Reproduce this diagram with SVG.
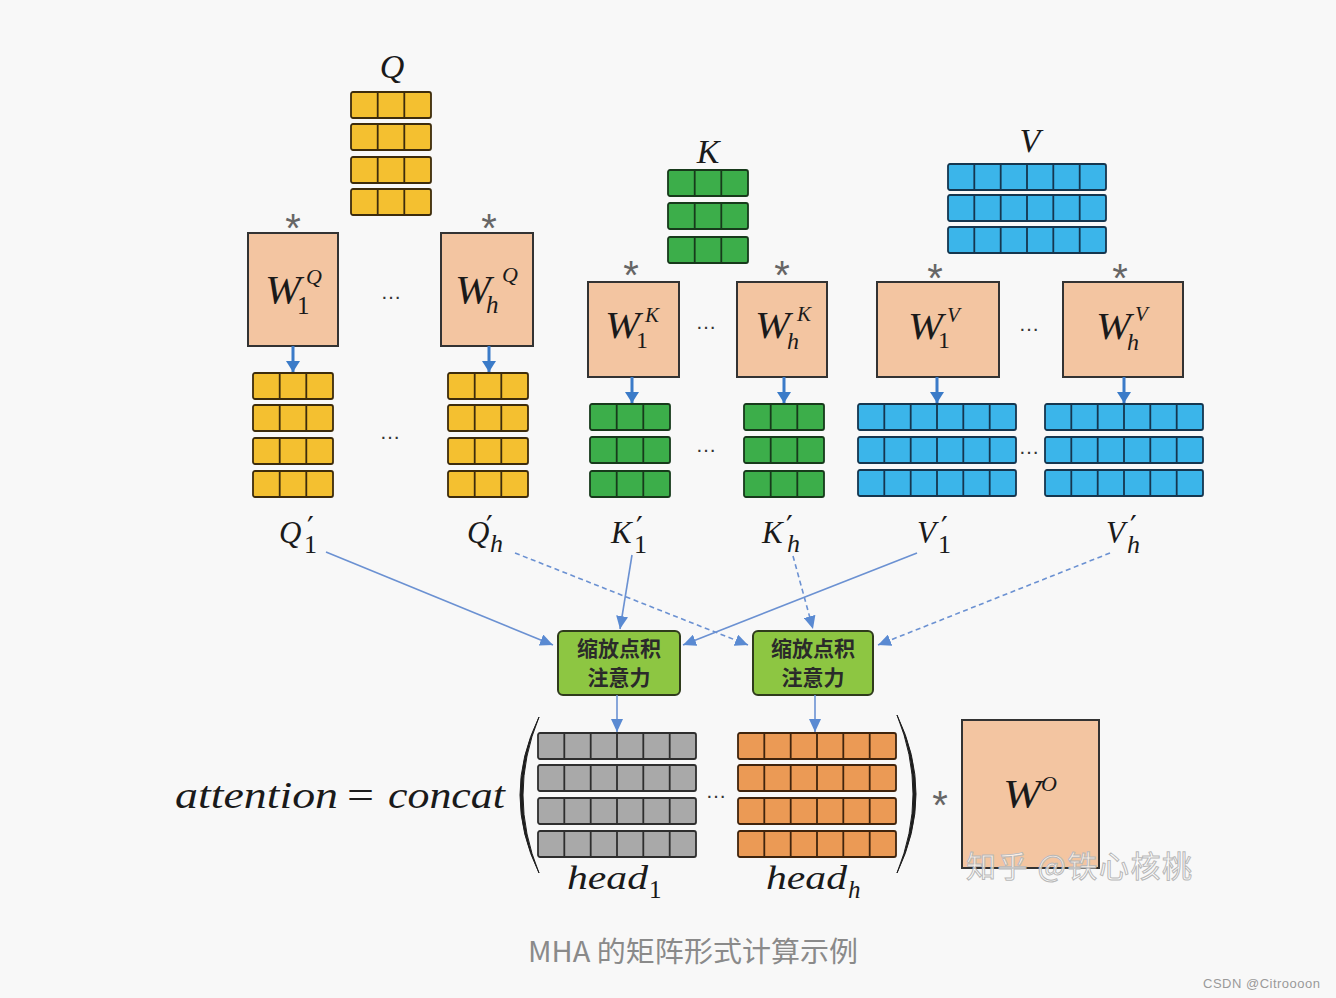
<svg xmlns="http://www.w3.org/2000/svg" xmlns:xlink="http://www.w3.org/1999/xlink" width="1336" height="998" viewBox="0 0 1336 998">
<style>
.m{font-family:"Liberation Serif","DejaVu Serif",serif;font-style:italic;fill:#1a1a1a}
.n{font-style:normal}
.p{font-family:"DejaVu Sans",sans-serif;font-style:normal;font-size:30px;fill:#1a1a1a}
.w{fill:#f3c5a1;stroke:#333;stroke-width:2}
.star{font-family:"Liberation Sans",sans-serif;font-size:40px;fill:#666;text-anchor:middle}
.dots{font-family:"Liberation Sans",sans-serif;font-size:21px;fill:#333;text-anchor:middle}
.att{fill:#8dc642;stroke:#2f3b1c;stroke-width:2}
.attt{font-family:"Noto Sans CJK SC",sans-serif;font-size:21px;font-weight:bold;fill:#2a2a2a;text-anchor:middle}
.c{stroke:#6b91d2;stroke-width:1.6;fill:none}
.d{stroke-dasharray:5 3.5}
.v{stroke:#3b7bc8;stroke-width:3;fill:none}
.y{fill:#f4c030;stroke:#3d2c0c}
.g{fill:#3cae4a;stroke:#173a1b}
.b{fill:#3bb5ea;stroke:#15364f}
.gr{fill:#a9a9a9;stroke:#2e2e2e}
.o{fill:#eb9a55;stroke:#40240d}
</style>
<defs>
<g id="r3" stroke-width="1.8">
<rect x="0" y="0" width="80" height="26" rx="2"/>
<line x1="26.7" y1="0" x2="26.7" y2="26"/>
<line x1="53.3" y1="0" x2="53.3" y2="26"/>
</g>
<g id="r6" stroke-width="1.8">
<rect x="0" y="0" width="158" height="26" rx="2"/>
<line x1="26.3" y1="0" x2="26.3" y2="26"/>
<line x1="52.7" y1="0" x2="52.7" y2="26"/>
<line x1="79" y1="0" x2="79" y2="26"/>
<line x1="105.3" y1="0" x2="105.3" y2="26"/>
<line x1="131.7" y1="0" x2="131.7" y2="26"/>
</g>
<marker id="ah" markerUnits="userSpaceOnUse" markerWidth="14" markerHeight="12" refX="13" refY="6" orient="auto">
<path d="M0,0 L13,6 L0,12 z" fill="#5a8ad2"/>
</marker>
<marker id="av" markerUnits="userSpaceOnUse" markerWidth="14" markerHeight="14" refX="11" refY="7" orient="auto">
<path d="M0,0 L11,7 L0,14 z" fill="#3b7bc8"/>
</marker>
</defs>
<rect x="0" y="0" width="1336" height="998" fill="#f8f8f8"/>

<g id="Q">
<text class="m" x="392" y="78" font-size="34" text-anchor="middle">Q</text>
<use href="#r3" x="351" y="92" class="y"/>
<use href="#r3" x="351" y="124" class="y"/>
<use href="#r3" x="351" y="157" class="y"/>
<use href="#r3" x="351" y="189" class="y"/>
</g>
<g id="K">
<text class="m" x="708" y="163" font-size="34" text-anchor="middle">K</text>
<use href="#r3" x="668" y="170" class="g"/>
<use href="#r3" x="668" y="203" class="g"/>
<use href="#r3" x="668" y="237" class="g"/>
</g>
<g id="V">
<text class="m" x="1030" y="152" font-size="34" text-anchor="middle">V</text>
<use href="#r6" x="948" y="164" class="b"/>
<use href="#r6" x="948" y="195" class="b"/>
<use href="#r6" x="948" y="227" class="b"/>
</g>

<g id="W1Q">
<text class="star" x="293" y="242">*</text>
<rect class="w" x="248" y="233" width="90" height="113"/>
<text class="m" x="265" y="303" font-size="40" textLength="36" lengthAdjust="spacingAndGlyphs">W</text>
<text class="m n" x="297" y="314" font-size="25">1</text>
<text class="m" x="306" y="284" font-size="22">Q</text>
</g>
<g id="WhQ">
<text class="star" x="489" y="242">*</text>
<rect class="w" x="441" y="233" width="92" height="113"/>
<text class="m" x="455" y="303" font-size="40" textLength="36" lengthAdjust="spacingAndGlyphs">W</text>
<text class="m" x="486" y="313" font-size="25">h</text>
<text class="m" x="502" y="282" font-size="22">Q</text>
</g>
<text class="dots" x="391" y="299">…</text>

<g id="W1K">
<text class="star" x="631" y="289">*</text>
<rect class="w" x="588" y="282" width="91" height="95"/>
<text class="m" x="605" y="338" font-size="38" textLength="35" lengthAdjust="spacingAndGlyphs">W</text>
<text class="m n" x="636" y="348" font-size="24">1</text>
<text class="m" x="645" y="322" font-size="21">K</text>
</g>
<g id="WhK">
<text class="star" x="782" y="289">*</text>
<rect class="w" x="737" y="282" width="90" height="95"/>
<text class="m" x="755" y="338" font-size="38" textLength="35" lengthAdjust="spacingAndGlyphs">W</text>
<text class="m" x="787" y="349" font-size="24">h</text>
<text class="m" x="797" y="321" font-size="21">K</text>
</g>
<text class="dots" x="706" y="329">…</text>

<g id="W1V">
<text class="star" x="935" y="292">*</text>
<rect class="w" x="877" y="282" width="122" height="95"/>
<text class="m" x="908" y="339" font-size="38" textLength="35" lengthAdjust="spacingAndGlyphs">W</text>
<text class="m n" x="938" y="348" font-size="24">1</text>
<text class="m" x="947" y="322" font-size="21">V</text>
</g>
<g id="WhV">
<text class="star" x="1120" y="292">*</text>
<rect class="w" x="1063" y="282" width="120" height="95"/>
<text class="m" x="1096" y="339" font-size="38" textLength="35" lengthAdjust="spacingAndGlyphs">W</text>
<text class="m" x="1127" y="350" font-size="24">h</text>
<text class="m" x="1135" y="321" font-size="21">V</text>
</g>
<text class="dots" x="1029" y="331">…</text>

<g id="Q1p">
<use href="#r3" x="253" y="373" class="y"/>
<use href="#r3" x="253" y="405" class="y"/>
<use href="#r3" x="253" y="438" class="y"/>
<use href="#r3" x="253" y="471" class="y"/>
<text class="m" x="279" y="543" font-size="31">Q</text>
<text class="p" x="307" y="538">′</text>
<text class="m n" x="304" y="553" font-size="26">1</text>
</g>
<g id="Qhp">
<use href="#r3" x="448" y="373" class="y"/>
<use href="#r3" x="448" y="405" class="y"/>
<use href="#r3" x="448" y="438" class="y"/>
<use href="#r3" x="448" y="471" class="y"/>
<text class="m" x="467" y="543" font-size="31">Q</text>
<text class="p" x="486" y="537">′</text>
<text class="m" x="490" y="552" font-size="26">h</text>
</g>
<text class="dots" x="390" y="439">…</text>

<g id="K1p">
<use href="#r3" x="590" y="404" class="g"/>
<use href="#r3" x="590" y="437" class="g"/>
<use href="#r3" x="590" y="471" class="g"/>
<text class="m" x="611" y="543" font-size="31">K</text>
<text class="p" x="636" y="538">′</text>
<text class="m n" x="634" y="553" font-size="26">1</text>
</g>
<g id="Khp">
<use href="#r3" x="744" y="404" class="g"/>
<use href="#r3" x="744" y="437" class="g"/>
<use href="#r3" x="744" y="471" class="g"/>
<text class="m" x="762" y="543" font-size="31">K</text>
<text class="p" x="786" y="537">′</text>
<text class="m" x="787" y="552" font-size="26">h</text>
</g>
<text class="dots" x="706" y="452">…</text>

<g id="V1p">
<use href="#r6" x="858" y="404" class="b"/>
<use href="#r6" x="858" y="437" class="b"/>
<use href="#r6" x="858" y="470" class="b"/>
<text class="m" x="917" y="543" font-size="31">V</text>
<text class="p" x="941" y="538">′</text>
<text class="m n" x="938" y="553" font-size="26">1</text>
</g>
<g id="Vhp">
<use href="#r6" x="1045" y="404" class="b"/>
<use href="#r6" x="1045" y="437" class="b"/>
<use href="#r6" x="1045" y="470" class="b"/>
<text class="m" x="1106" y="543" font-size="31">V</text>
<text class="p" x="1130" y="537">′</text>
<text class="m" x="1127" y="553" font-size="26">h</text>
</g>
<text class="dots" x="1029" y="454">…</text>

<g id="att1">
<rect class="att" x="558" y="631" width="122" height="64" rx="5"/>
<text class="attt" x="619" y="656">缩放点积</text>
<text class="attt" x="619" y="685">注意力</text>
</g>
<g id="atth">
<rect class="att" x="753" y="631" width="120" height="64" rx="5"/>
<text class="attt" x="813" y="656">缩放点积</text>
<text class="attt" x="813" y="685">注意力</text>
</g>

<g id="formula">
<text class="m" x="175" y="808" font-size="38" textLength="163" lengthAdjust="spacingAndGlyphs">attention</text>
<text class="m n" x="347" y="808" font-size="38" textLength="27" lengthAdjust="spacingAndGlyphs">=</text>
<text class="m" x="388" y="808" font-size="38" textLength="117" lengthAdjust="spacingAndGlyphs">concat</text>
<path d="M539,717 Q501,795 539,873 Q507,795 539,717 z" fill="#1e1e1e" stroke="#1e1e1e" stroke-width="1"/>
<path d="M897,715 Q935,794 897,873 Q929,794 897,715 z" fill="#1e1e1e" stroke="#1e1e1e" stroke-width="1"/>
</g>
<g id="head1">
<use href="#r6" x="538" y="733" class="gr"/>
<use href="#r6" x="538" y="765" class="gr"/>
<use href="#r6" x="538" y="798" class="gr"/>
<use href="#r6" x="538" y="831" class="gr"/>
<text class="m" x="567" y="889" font-size="34" textLength="81" lengthAdjust="spacingAndGlyphs">head</text>
<text class="m n" x="649" y="898" font-size="25">1</text>
</g>
<g id="headh">
<use href="#r6" x="738" y="733" class="o"/>
<use href="#r6" x="738" y="765" class="o"/>
<use href="#r6" x="738" y="798" class="o"/>
<use href="#r6" x="738" y="831" class="o"/>
<text class="m" x="766" y="889" font-size="34" textLength="81" lengthAdjust="spacingAndGlyphs">head</text>
<text class="m" x="848" y="898" font-size="25">h</text>
</g>
<text class="dots" x="716" y="798">…</text>
<text class="star" x="940" y="819">*</text>
<g id="WO">
<rect class="w" x="962" y="720" width="137" height="148"/>
<text class="m" x="1003" y="807" font-size="40" textLength="38" lengthAdjust="spacingAndGlyphs">W</text>
<text class="m" x="1041" y="791" font-size="22">O</text>
</g>

<g id="connectors">
<line class="v" x1="293" y1="346" x2="293" y2="372" marker-end="url(#av)"/>
<line class="v" x1="489" y1="346" x2="489" y2="372" marker-end="url(#av)"/>
<line class="v" x1="632" y1="377" x2="632" y2="403" marker-end="url(#av)"/>
<line class="v" x1="784" y1="377" x2="784" y2="403" marker-end="url(#av)"/>
<line class="v" x1="937" y1="377" x2="937" y2="403" marker-end="url(#av)"/>
<line class="v" x1="1124" y1="377" x2="1124" y2="403" marker-end="url(#av)"/>
<line class="c" x1="326" y1="552" x2="553" y2="645" marker-end="url(#ah)"/>
<line class="c d" x1="515" y1="553" x2="748" y2="645" marker-end="url(#ah)"/>
<line class="c" x1="632" y1="555" x2="620" y2="629" marker-end="url(#ah)"/>
<line class="c d" x1="793" y1="556" x2="813" y2="629" marker-end="url(#ah)"/>
<line class="c" x1="917" y1="553" x2="683" y2="645" marker-end="url(#ah)"/>
<line class="c d" x1="1110" y1="553" x2="878" y2="645" marker-end="url(#ah)"/>
<line class="c" x1="617" y1="695" x2="617" y2="732" marker-end="url(#ah)"/>
<line class="c" x1="815" y1="695" x2="815" y2="732" marker-end="url(#ah)"/>
</g>

<text x="966" y="877" font-family="'Noto Sans CJK SC',sans-serif" font-size="30" fill="#ffffff" fill-opacity="0.75" stroke="#b8b8b8" stroke-width="1" textLength="226">知乎 @铁心核桃</text>
<text x="528" y="962" font-family="'Noto Sans CJK SC',sans-serif" font-size="28" fill="#8a8a8a" textLength="330" lengthAdjust="spacingAndGlyphs">MHA 的矩阵形式计算示例</text>
<text x="1203" y="988" font-family="'Liberation Sans',sans-serif" font-size="13" fill="#9a9a9a" textLength="117">CSDN @Citroooon</text>
</svg>
